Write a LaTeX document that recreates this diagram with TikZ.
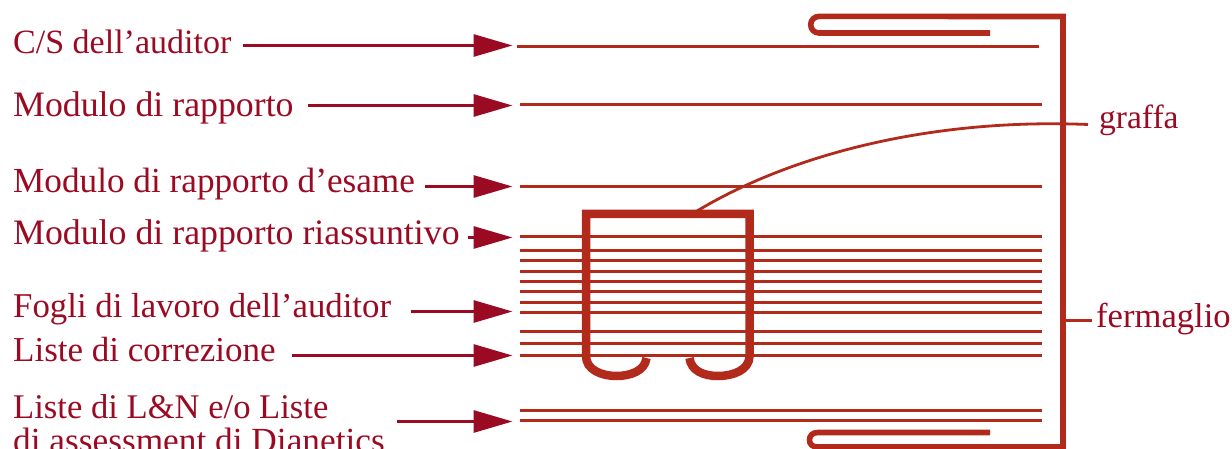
\documentclass[tikz,border=0pt]{standalone}
\usepackage{fontspec}
\setmainfont{Liberation Serif}
\definecolor{lab}{HTML}{9B0A23}
\definecolor{rust}{HTML}{B22A1C}
\usetikzlibrary{arrows.meta}
\tikzset{
  lbl/.style={anchor=base west,inner sep=0pt,text=lab,font=\fontsize{#1}{#1}\selectfont},
  ptr/.style={draw=lab,line width=3pt,-{Triangle[length=39pt,width=22pt]}},
  sheet/.style={draw=rust,line width=3pt},
  clipwire/.style={draw=rust,line width=5.6pt,line join=miter},
  staple/.style={draw=rust,line width=8.5pt,line join=miter},
  lead/.style={draw=rust,line width=2.8pt}
}
\begin{document}
\begin{tikzpicture}[x=1pt,y=-1pt]
\useasboundingbox (0,0) rectangle (1232,449);
\clip (0,0) rectangle (1232,449);
% sheets
\foreach \n/\xa/\xb/\y in {a/517/1039/46.5,b/520/1042/104.5,c/520/1042/186.5,d/520/1042/236.5,e/520/1042/250.5,f/520/1042/260.5,g/520/1042/271.5,h/520/1042/281.5,i/520/1042/291.5,j/520/1042/302.5,k/520/1042/312.5,l/520/1042/331.5,m/520/1042/343.5,n/520/1042/355.5,o/520/1042/410.5,p/520/1042/420.5}{
  \coordinate (s\n l) at (\xa,\y);
  \coordinate (s\n r) at (\xb,\y);
  \draw[sheet] (s\n l) -- (s\n r);
}
% labels
\node[lbl=34] (t1) at (13,54) {C/S dell’auditor};
\node[lbl=35.8] (t2) at (13,116.5) {Modulo di rapporto};
\node[lbl=35.2] (t3) at (13,193) {Modulo di rapporto d’esame};
\node[lbl=35.8] (t4) at (13,244.5) {Modulo di rapporto riassuntivo};
\node[lbl=34.8] (t5) at (13,317) {Fogli di lavoro dell’auditor};
\node[lbl=35] (t6) at (13,361) {Liste di correzione};
\node[lbl=34.6] (t7) at (13,418) {Liste di L\&N e/o Liste};
\node[lbl=35.3] (t8) at (13,452) {di assessment di Dianetics};
\node[lbl=33.5] (gr) at (1099,129) {graffa};
\node[lbl=34.6] (fe) at (1096,327) {fermaglio};
% pointers
\foreach \n/\xa/\y in {1/243/45.5,2/308/105.5,3/425/186.5,4/468/237.5,5/411/311.5,6/292/355.5,7/397/421.5}{
  \coordinate (p\n a) at (\xa,\y);
  \coordinate (p\n b) at (512.5,\y);
  \draw[ptr] (p\n a) -- (p\n b);
}
% paper clip
\draw[clipwire] (990,33) -- (819,33) arc[start angle=90,end angle=270,radius=8.3] -- (1063,16.5) -- (1063,447) -- (818,447);
\draw[clipwire] (990,432.5) -- (818,432.5) .. controls (812,432.5) and (809.5,436) .. (809.5,440) .. controls (809.5,444) and (812,447) .. (818,447);
% staple
\draw[staple] (646.5,358) .. controls (645,371) and (630,376) .. (616.5,376) .. controls (602,376) and (586,370) .. (586,356) -- (586,214) -- (749.5,214) -- (749.5,356) .. controls (749.5,370) and (733,376) .. (718,376) .. controls (704,376) and (691,371) .. (689.5,358);
% leaders
\coordinate (stapletop) at (697,211);
\coordinate (grl) at (1088,124.5);
\draw[lead] (stapletop) .. controls (790,155) and (930,118) .. (grl);
\coordinate (cliport) at (1065,320.5);
\coordinate (fel) at (1092,320.5);
\draw[lead] (cliport) -- (fel);
\end{tikzpicture}
\end{document}
